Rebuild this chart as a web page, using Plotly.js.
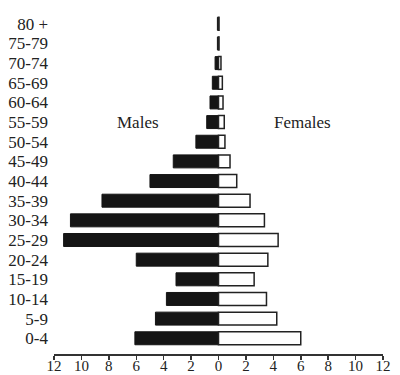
<!DOCTYPE html>
<html>
<head>
<meta charset="utf-8">
<script src="https://cdn.plot.ly/plotly-3.0.1.min.js"></script>
<style>html,body{margin:0;padding:0;background:#fff;}#chart{width:400px;height:375px;}</style>
</head>
<body>
<div id="chart"></div>
<script>
var ageGroups = ["0-4","5-9","10-14","15-19","20-24","25-29","30-34","35-39","40-44","45-49","50-54","55-59","60-64","65-69","70-74","75-79","80 +"];
var males   = [6.1, 4.6, 3.8, 3.1, 6.0, 11.3, 10.8, 8.5, 5.0, 3.3, 1.65, 0.86, 0.62, 0.45, 0.25, 0.08, 0.08];
var females = [6.0, 4.25, 3.5, 2.6, 3.6, 4.35, 3.35, 2.3, 1.33, 0.84, 0.47, 0.42, 0.33, 0.28, 0.18, 0.04, 0.04];
var tickValues = [-12,-10,-8,-6,-4,-2,0,2,4,6,8,10,12];
var tickLabels = ["12","10","8","6","4","2","0","2","4","6","8","10","12"];

var maleTrace = {
  type: "bar", orientation: "h", name: "Males",
  y: ageGroups, x: males.map(function(v){return -v;}),
  marker: {color: "#151515", line: {color: "#151515", width: 1}},
  hoverinfo: "skip"
};
var femaleTrace = {
  type: "bar", orientation: "h", name: "Females",
  y: ageGroups, x: females,
  marker: {color: "#ffffff", line: {color: "#222", width: 1.5}},
  hoverinfo: "skip"
};
var fam = "Times New Roman, Liberation Serif, DejaVu Serif, Noto Serif, serif";
var font = {family: fam, size: 17, color: "#222"};
var xfont = {family: fam, size: 15, color: "#222"};
var layout = {
  width: 400, height: 375,
  margin: {l: 54, r: 17, t: 12, b: 21},
  paper_bgcolor: "#fff", plot_bgcolor: "#fff",
  showlegend: false,
  barmode: "relative",
  bargap: 0.34,
  font: font,
  xaxis: {
    range: [-12, 12], tickvals: tickValues, ticktext: tickLabels,
    showgrid: false, zeroline: false, showline: true, linecolor: "#333", linewidth: 1.5,
    ticks: "outside", ticklen: 4, tickwidth: 1.5, tickcolor: "#333",
    ticklabelstandoff: -7,
    tickfont: xfont, fixedrange: true
  },
  xaxis2: {
    overlaying: "x", matches: "x", anchor: "y", side: "bottom",
    range: [-12, 12], tickvals: tickValues,
    showgrid: false, zeroline: false, showline: false,
    ticks: "inside", ticklen: 5, tickwidth: 1.5, tickcolor: "#333",
    showticklabels: false
  },
  yaxis: {
    type: "category", range: [-0.8, 16.6],
    tickmode: "array", tickvals: ageGroups, ticktext: ageGroups,
    showgrid: false, zeroline: false, showline: false,
    ticks: "", ticklabelstandoff: 5, tickfont: font, fixedrange: true
  },
  annotations: [
    {x: -5.9, y: "55-59", xref: "x", yref: "y", text: "Males", showarrow: false, font: font},
    {x: 6.1, y: "55-59", xref: "x", yref: "y", text: "Females", showarrow: false, font: font}
  ]
};
Plotly.newPlot("chart", [maleTrace, femaleTrace], layout, {staticPlot: true, displayModeBar: false});
</script>
</body>
</html>
